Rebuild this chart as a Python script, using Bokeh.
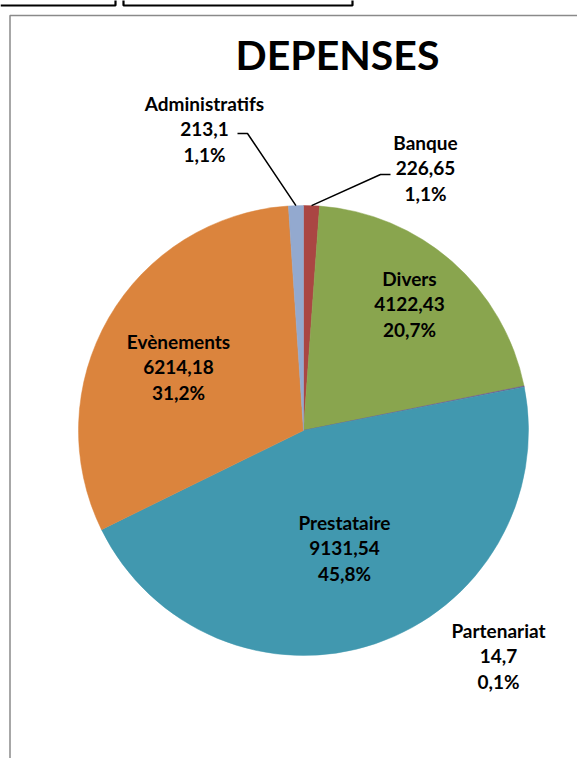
import math
from bokeh.plotting import figure
from bokeh.models import Range1d
from bokeh.core.properties import value
from bokeh.embed import file_html
from bokeh.resources import INLINE

# ---- data (clockwise from 12 o'clock, as in the chart) ----
categories = ["Banque", "Divers", "Partenariat", "Prestataire", "Evènements", "Administratifs"]
amounts = [226.65, 4122.43, 14.7, 9131.54, 6214.18, 213.1]
amount_labels = ["226,65", "4122,43", "14,7", "9131,54", "6214,18", "213,1"]
colors = ["#AA4643", "#89A54E", "#71588F", "#4198AF", "#DB843D", "#93A9CF"]
title = "DEPENSES"

# ---- layout (image pixel coords) ----
W, H = 577, 758
def Y(y):
    return H - y

CX, CY, R = 303, 430, 225
label_pos = {  # centre x, y of first line
    "Banque": (425, 142),
    "Divers": (409, 278),
    "Partenariat": (498, 630),
    "Prestataire": (344, 522),
    "Evènements": (178, 341),
    "Administratifs": (204, 103),
}
LINE_STEP = 25.5
FONT = "Lato"

p = figure(width=W, height=H, output_backend="svg", toolbar_location=None,
           x_range=Range1d(0, W), y_range=Range1d(0, H),
           min_border=0, outline_line_color=None)
p.axis.visible = False
p.grid.visible = False
p.background_fill_color = "white"
p.border_fill_color = "white"

# spreadsheet cell borders visible above the chart
p.line([0, 115, 115], [Y(5), Y(5), Y(-1)], line_color="black", line_width=2.2)
p.line([123, 123, 352, 352], [Y(-1), Y(5), Y(5), Y(-1)], line_color="black", line_width=2.2)

# chart area border
p.line([9.5, 9.5, 580], [Y(760), Y(15), Y(15)], line_color="#8A8A8A", line_width=1.5)

total = sum(amounts)
cum = 0.0
mids = {}
for cat, v, col in zip(categories, amounts, colors):
    a0 = cum / total * 2 * math.pi
    cum += v
    a1 = cum / total * 2 * math.pi
    mids[cat] = (a0 + a1) / 2
    p.wedge(x=CX, y=Y(CY), radius=R,
            start_angle=math.pi / 2 - a1, end_angle=math.pi / 2 - a0,
            direction="anticlock", fill_color=col, line_color=col, line_width=0.5)

# labels
for cat, v, lab in zip(categories, amounts, amount_labels):
    pct = f"{v / total * 100:.1f}%".replace(".", ",")
    lx, ly = label_pos[cat]
    lines = [cat, lab, pct]
    p.text(x=[lx] * 3, y=[Y(ly + i * LINE_STEP) for i in range(3)], text=lines,
           text_font=value(FONT), text_font_style="bold", text_font_size="19px",
           text_color="black", text_align="center", text_baseline="middle")

# leader lines
def edge_pt(cat):
    a = mids[cat]
    return CX + R * math.sin(a), CY - R * math.cos(a)

ex, ey = edge_pt("Administratifs")
p.line([237, 247, ex], [Y(133), Y(133), Y(ey)], line_color="black", line_width=1.5)
ex, ey = edge_pt("Banque")
p.line([ex, 380, 390], [Y(ey), Y(174), Y(174)], line_color="black", line_width=1.5)

# title
p.text(x=[337], y=[Y(54)], text=[title], text_font=value(FONT), text_font_style="bold",
       text_font_size="41px", text_color="black", text_align="center", text_baseline="middle")

open("out.html", "w").write(file_html(p, INLINE))
